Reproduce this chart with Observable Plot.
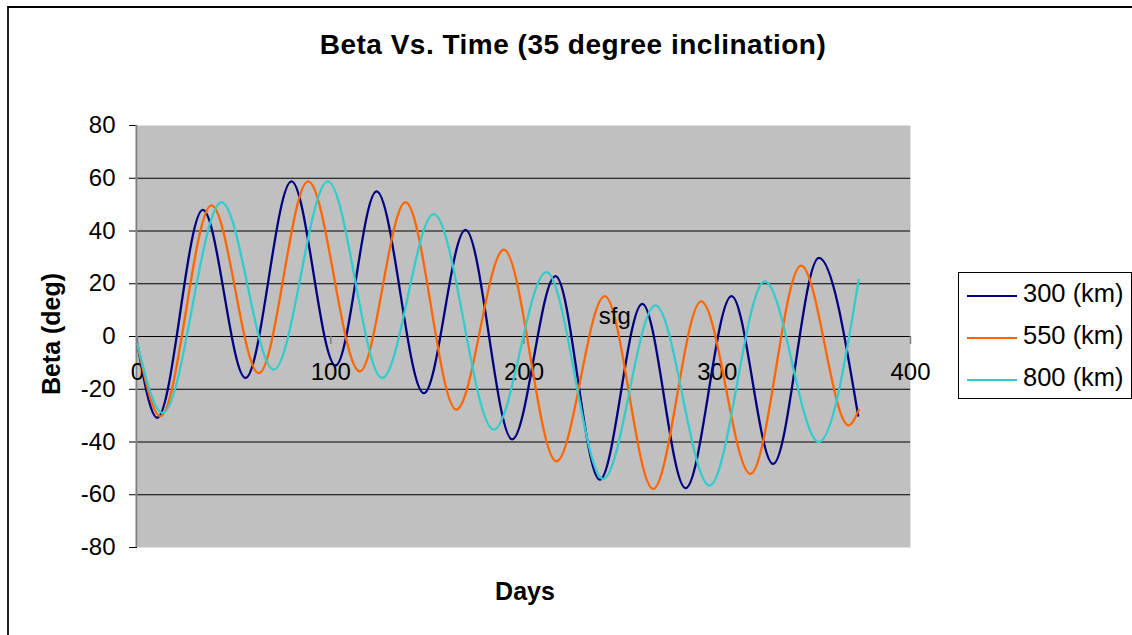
<!DOCTYPE html>
<html>
<head>
<meta charset="utf-8">
<script src="https://cdn.jsdelivr.net/npm/d3@7"></script>
<script src="https://cdn.jsdelivr.net/npm/@observablehq/plot@0.6"></script>
<style>
  body { margin: 0; background: #fff; }
  #wrap { position: relative; width: 1132px; height: 635px; overflow: hidden;
          font-family: "Liberation Sans", Arial, Helvetica, sans-serif; color: #000; }
  #border { position: absolute; left: 7px; top: 6px; width: 1300px; height: 800px;
            border-left: 2px solid #222; border-top: 2px solid #000; box-sizing: border-box; }
  #chart { position: absolute; left: 0; top: 0; }
  .t { position: absolute; line-height: 1; white-space: nowrap; }
  #title { left: 0; width: 1146px; top: 31px; text-align: center; font-weight: bold;
           font-size: 28px; letter-spacing: 0.5px; }
  #ytitle { left: 51px; top: 334px; font-weight: bold; font-size: 25px;
            transform: translate(-50%, -50%) rotate(-90deg); }
  #xtitle { left: 0; width: 1050px; top: 579px; text-align: center; font-weight: bold; font-size: 25px; }
  #legend { position: absolute; left: 958px; top: 272px; width: 174px; height: 127px;
            border: 1.5px solid #000; box-sizing: border-box; background: #fff; }
  .sw { position: absolute; left: 8px; width: 50px; height: 0; border-top: 2.5px solid; }
  .lt { position: absolute; left: 64px; font-size: 25.5px; line-height: 1; white-space: nowrap; }
</style>
</head>
<body>
<div id="wrap">
  <div id="border"></div>
  <div id="chart"></div>
  <div id="title" class="t">Beta Vs. Time (35 degree inclination)</div>
  <div id="ytitle" class="t">Beta (deg)</div>
  <div id="xtitle" class="t">Days</div>
  <div id="legend"></div>
</div>
<script>
// ---- data (extrema of each curve) ----
const seriesNames = ["300 (km)", "550 (km)", "800 (km)"];
const seriesColors = ["#000080", "#FF6600", "#33CCCC"];

const days300 = [0, 10.2, 33.8, 55.9, 79.7, 102.5, 123.7, 148.2, 169.7, 193.9, 216.3, 239.2, 261.2, 283.6, 307.4, 328.9, 352.6, 372.9];
const beta300 = [-3, -30.8, 48, -15.7, 58.8, -11, 55, -21.5, 40.4, -39, 22.9, -54.3, 12.4, -57.5, 15.3, -48.3, 29.8, -30];

const days550 = [0, 11.9, 38.3, 62.8, 88.3, 115, 138.7, 165, 189.6, 216.8, 241.8, 266.8, 291.7, 317.2, 343.4, 368, 373.2];
const beta550 = [-3, -30.2, 49.7, -13.9, 58.8, -13.2, 50.9, -27.7, 32.9, -47.3, 15.3, -57.8, 13.3, -52.1, 26.9, -33.7, -27.8];

const days800 = [0, 13.1, 43.5, 70.5, 98.5, 126.6, 153.3, 184.4, 211.6, 241, 268, 296, 324.6, 352.6, 373.2];
const beta800 = [-3, -29, 50.9, -12.6, 58.8, -15.7, 46.4, -35.3, 24.4, -54, 11.8, -56.5, 20.9, -40, 21.6];

const xTicks = [0, 100, 200, 300, 400];
const yTicks = [-80, -60, -40, -20, 0, 20, 40, 60, 80];
const gridTicks = [-60, -40, -20, 0, 20, 40, 60];

const noteDays = [247];
const noteBeta = [7.7];
const noteText = ["sfg"];

// ---- build table ----
const rows = [];
[[days300, beta300], [days550, beta550], [days800, beta800]].forEach(([d, b], k) => {
  d.forEach((x, i) => rows.push({ day: x, beta: b[i], series: seriesNames[k] }));
});
const notes = noteDays.map((d, i) => ({ day: d, beta: noteBeta[i], text: noteText[i] }));

const chart = Plot.plot({
  width: 1132,
  height: 635,
  marginLeft: 137,
  marginRight: 222,
  marginTop: 125,
  marginBottom: 88,
  x: { domain: [xTicks[0], xTicks[xTicks.length - 1]], axis: null },
  y: { domain: [yTicks[0], yTicks[yTicks.length - 1]], axis: null },
  color: { domain: seriesNames, range: seriesColors },
  style: { fontFamily: '"Liberation Sans", Arial, sans-serif', fontSize: "24px", color: "#000", background: "transparent", overflow: "visible" },
  marks: [
    Plot.frame({ fill: "#C0C0C0", stroke: null }),
    Plot.ruleY(gridTicks, { stroke: "#000", strokeWidth: 1.2 }),
    Plot.axisY({ ticks: yTicks, tickSize: 8, tickPadding: 14, fontSize: 24, stroke: "#000", tickFormat: d => String(d), label: null }),
    Plot.ruleX([xTicks[0]], { stroke: "#808080", strokeWidth: 2, dx: -1 }),
    Plot.ruleX(xTicks, { x: d => d, y1: () => 0, y2: () => 0, insetBottom: -8, stroke: "#808080", strokeWidth: 1.5 }),
    Plot.text(xTicks, { x: d => d, y: () => 0, dy: 36, fontSize: 24, text: d => String(d), fill: "#000" }),
    Plot.line(rows, { x: "day", y: "beta", z: "series", stroke: "series", curve: "monotone-x", strokeWidth: 2.3 }),
    Plot.text(notes, { x: "day", y: "beta", text: "text", fontSize: 24, fill: "#000" })
  ]
});
document.getElementById("chart").appendChild(chart);

// ---- legend ----
const legend = document.getElementById("legend");
const rowY = [22, 64, 106];
seriesNames.forEach((name, i) => {
  const sw = document.createElement("div");
  sw.className = "sw";
  sw.style.top = rowY[i] + "px";
  sw.style.borderTopColor = seriesColors[i];
  legend.appendChild(sw);
  const lt = document.createElement("div");
  lt.className = "lt";
  lt.style.top = (rowY[i] - 14) + "px";
  lt.textContent = name;
  legend.appendChild(lt);
});
</script>
</body>
</html>
